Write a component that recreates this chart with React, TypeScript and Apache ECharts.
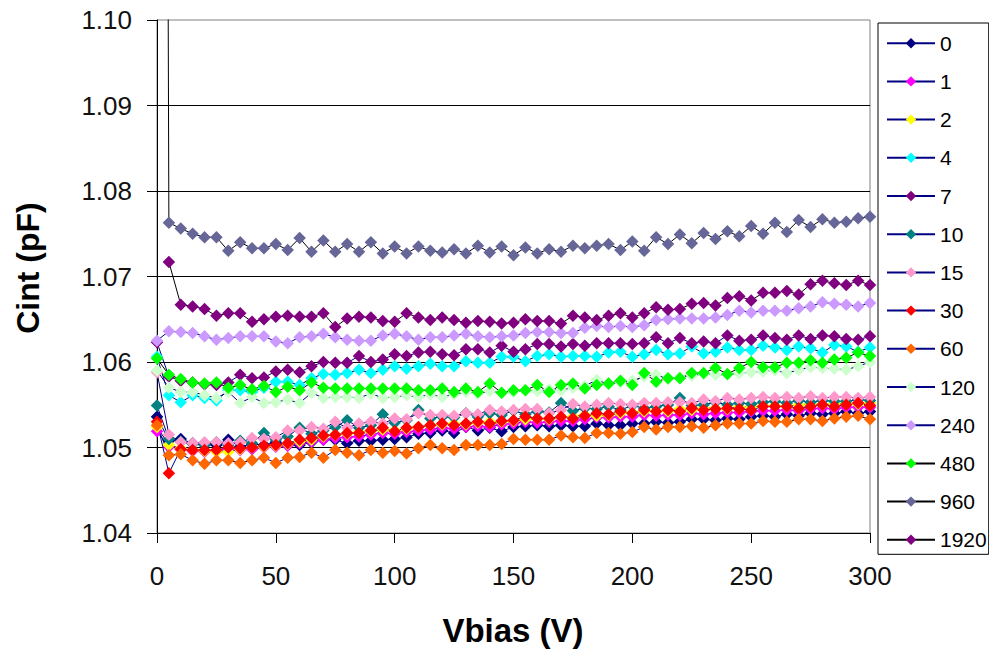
import React, { useEffect, useRef } from "react";
import * as echarts from "echarts";

// Bias voltage (V)
const vbias = [
  0, 5, 10, 15, 20, 25, 30, 35, 40, 45,
  50, 55, 60, 65, 70, 75, 80, 85, 90, 95,
  100, 105, 110, 115, 120, 125, 130, 135, 140, 145,
  150, 155, 160, 165, 170, 175, 180, 185, 190, 195,
  200, 205, 210, 215, 220, 225, 230, 235, 240, 245,
  250, 255, 260, 265, 270, 275, 280, 285, 290, 295,
  300,
];

const yTicks = [1.04, 1.05, 1.06, 1.07, 1.08, 1.09, 1.1];
const xTicks = [0, 50, 100, 150, 200, 250, 300];

const seriesNames = ["0", "1", "2", "4", "7", "10", "15", "30", "60", "120", "240", "480", "960", "1920"];

// Cint (pF) per series
const s0 = [
  1.0536, 1.0508, 1.0510, 1.0505, 1.0503, 1.0503, 1.0509, 1.0501, 1.0504, 1.0503,
  1.0506, 1.0503, 1.0503, 1.0506, 1.0509, 1.0509, 1.0505, 1.0508, 1.0508, 1.0509,
  1.0510, 1.0512, 1.0516, 1.0517, 1.0520, 1.0517, 1.0524, 1.0520, 1.0523, 1.0519,
  1.0524, 1.0525, 1.0526, 1.0525, 1.0526, 1.0525, 1.0525, 1.0528, 1.0526, 1.0526,
  1.0528, 1.0528, 1.0530, 1.0529, 1.0530, 1.0533, 1.0533, 1.0532, 1.0534, 1.0533,
  1.0536, 1.0537, 1.0536, 1.0539, 1.0537, 1.0540, 1.0539, 1.0540, 1.0542, 1.0540,
  1.0542,
];
const s1 = [
  1.0519, 1.0501, 1.0498, 1.0496, 1.0495, 1.0496, 1.0498, 1.0497, 1.0498, 1.0500,
  1.0501, 1.0502, 1.0505, 1.0507, 1.0509, 1.0511, 1.0512, 1.0513, 1.0515, 1.0517,
  1.0516, 1.0518, 1.0520, 1.0521, 1.0523, 1.0522, 1.0524, 1.0525, 1.0524, 1.0527,
  1.0528, 1.0530, 1.0529, 1.0530, 1.0531, 1.0531, 1.0533, 1.0535, 1.0535, 1.0536,
  1.0536, 1.0538, 1.0537, 1.0538, 1.0538, 1.0540, 1.0539, 1.0540, 1.0541, 1.0541,
  1.0542, 1.0543, 1.0543, 1.0544, 1.0543, 1.0545, 1.0546, 1.0545, 1.0547, 1.0547,
  1.0547,
];
const s2 = [
  1.0524, 1.0503, 1.0499, 1.0497, 1.0496, 1.0495, 1.0495, 1.0498, 1.0500, 1.0501,
  1.0502, 1.0504, 1.0507, 1.0509, 1.0513, 1.0515, 1.0516, 1.0518, 1.0519, 1.0521,
  1.0520, 1.0522, 1.0524, 1.0526, 1.0527, 1.0528, 1.0527, 1.0529, 1.0530, 1.0530,
  1.0531, 1.0533, 1.0534, 1.0533, 1.0536, 1.0536, 1.0538, 1.0537, 1.0538, 1.0540,
  1.0541, 1.0542, 1.0543, 1.0542, 1.0545, 1.0544, 1.0546, 1.0546, 1.0545, 1.0548,
  1.0547, 1.0549, 1.0549, 1.0548, 1.0550, 1.0551, 1.0550, 1.0551, 1.0552, 1.0551,
  1.0552,
];
const s4 = [
  1.0606, 1.0561, 1.0553, 1.0561, 1.0558, 1.0555, 1.0567, 1.0567, 1.0565, 1.0570,
  1.0577, 1.0577, 1.0573, 1.0581, 1.0586, 1.0585, 1.0587, 1.0591, 1.0587, 1.0591,
  1.0595, 1.0592, 1.0595, 1.0598, 1.0595, 1.0595, 1.0601, 1.0599, 1.0599, 1.0606,
  1.0606, 1.0601, 1.0607, 1.0609, 1.0606, 1.0607, 1.0607, 1.0606, 1.0611, 1.0612,
  1.0606, 1.0609, 1.0614, 1.0609, 1.0610, 1.0618, 1.0610, 1.0612, 1.0617, 1.0614,
  1.0614, 1.0619, 1.0617, 1.0614, 1.0618, 1.0616, 1.0611, 1.0620, 1.0618, 1.0612,
  1.0617,
];
const s7 = [
  1.0623, 1.0583, 1.0578, 1.0576, 1.0574, 1.0573, 1.0576, 1.0585, 1.0581, 1.0582,
  1.0589, 1.0591, 1.0588, 1.0595, 1.0600, 1.0599, 1.0599, 1.0607, 1.0600, 1.0603,
  1.0609, 1.0607, 1.0611, 1.0612, 1.0609, 1.0608, 1.0615, 1.0615, 1.0611, 1.0619,
  1.0612, 1.0615, 1.0621, 1.0621, 1.0618, 1.0621, 1.0619, 1.0622, 1.0622, 1.0622,
  1.0621, 1.0622, 1.0629, 1.0622, 1.0628, 1.0622, 1.0624, 1.0622, 1.0631, 1.0625,
  1.0626, 1.0631, 1.0628, 1.0626, 1.0631, 1.0627, 1.0631, 1.0630, 1.0627, 1.0626,
  1.0630,
];
const s10 = [
  1.0549, 1.0510, 1.0507, 1.0504, 1.0503, 1.0506, 1.0503, 1.0508, 1.0505, 1.0517,
  1.0509, 1.0513, 1.0523, 1.0516, 1.0520, 1.0524, 1.0532, 1.0523, 1.0526, 1.0539,
  1.0529, 1.0532, 1.0544, 1.0534, 1.0536, 1.0535, 1.0540, 1.0536, 1.0540, 1.0538,
  1.0543, 1.0539, 1.0542, 1.0541, 1.0552, 1.0543, 1.0546, 1.0545, 1.0548, 1.0544,
  1.0549, 1.0546, 1.0548, 1.0550, 1.0558, 1.0549, 1.0550, 1.0553, 1.0550, 1.0552,
  1.0551, 1.0553, 1.0554, 1.0552, 1.0555, 1.0553, 1.0555, 1.0554, 1.0554, 1.0556,
  1.0555,
];
const s15 = [
  1.0588, 1.0515, 1.0506, 1.0505, 1.0506, 1.0506, 1.0505, 1.0506, 1.0511, 1.0510,
  1.0512, 1.0520, 1.0520, 1.0524, 1.0522, 1.0530, 1.0523, 1.0528, 1.0530, 1.0528,
  1.0534, 1.0533, 1.0540, 1.0538, 1.0538, 1.0537, 1.0540, 1.0539, 1.0544, 1.0542,
  1.0544, 1.0545, 1.0545, 1.0540, 1.0544, 1.0551, 1.0548, 1.0550, 1.0552, 1.0551,
  1.0550, 1.0552, 1.0552, 1.0553, 1.0553, 1.0552, 1.0556, 1.0554, 1.0558, 1.0556,
  1.0558, 1.0559, 1.0558, 1.0559, 1.0558, 1.0560, 1.0558, 1.0559, 1.0559, 1.0558,
  1.0559,
];
const s30 = [
  1.0530, 1.0470, 1.0498, 1.0497, 1.0497, 1.0497, 1.0500, 1.0499, 1.0500, 1.0502,
  1.0503, 1.0505, 1.0509, 1.0511, 1.0514, 1.0515, 1.0517, 1.0517, 1.0520, 1.0523,
  1.0519, 1.0523, 1.0524, 1.0526, 1.0528, 1.0526, 1.0528, 1.0530, 1.0528, 1.0531,
  1.0532, 1.0536, 1.0534, 1.0534, 1.0536, 1.0534, 1.0537, 1.0540, 1.0539, 1.0542,
  1.0540, 1.0544, 1.0542, 1.0544, 1.0542, 1.0546, 1.0544, 1.0545, 1.0546, 1.0545,
  1.0544, 1.0548, 1.0548, 1.0548, 1.0546, 1.0548, 1.0550, 1.0548, 1.0550, 1.0552,
  1.0549,
];
const s60 = [
  1.0526, 1.0491, 1.0492, 1.0485, 1.0481, 1.0485, 1.0485, 1.0482, 1.0485, 1.0488,
  1.0482, 1.0488, 1.0489, 1.0494, 1.0488, 1.0497, 1.0494, 1.0491, 1.0497, 1.0494,
  1.0496, 1.0493, 1.0499, 1.0503, 1.0499, 1.0497, 1.0503, 1.0503, 1.0503, 1.0504,
  1.0510, 1.0509, 1.0509, 1.0509, 1.0514, 1.0512, 1.0511, 1.0517, 1.0517, 1.0516,
  1.0518, 1.0524, 1.0521, 1.0524, 1.0524, 1.0525, 1.0523, 1.0526, 1.0528, 1.0528,
  1.0528, 1.0531, 1.0530, 1.0530, 1.0533, 1.0533, 1.0531, 1.0534, 1.0536, 1.0537,
  1.0533,
];
const s120 = [
  1.0590, 1.0570, 1.0565, 1.0565, 1.0561, 1.0558, 1.0565, 1.0552, 1.0559, 1.0552,
  1.0553, 1.0556, 1.0552, 1.0564, 1.0558, 1.0559, 1.0559, 1.0558, 1.0563, 1.0558,
  1.0559, 1.0561, 1.0559, 1.0562, 1.0559, 1.0562, 1.0565, 1.0563, 1.0566, 1.0564,
  1.0565, 1.0567, 1.0566, 1.0568, 1.0567, 1.0570, 1.0572, 1.0579, 1.0574, 1.0576,
  1.0578, 1.0583, 1.0585, 1.0580, 1.0582, 1.0584, 1.0586, 1.0585, 1.0585, 1.0587,
  1.0588, 1.0589, 1.0590, 1.0587, 1.0591, 1.0594, 1.0593, 1.0592, 1.0591, 1.0595,
  1.0600,
];
const s240 = [
  1.0625, 1.0636, 1.0635, 1.0634, 1.0630, 1.0626, 1.0628, 1.0630, 1.0630, 1.0630,
  1.0624, 1.0622, 1.0629, 1.0630, 1.0633, 1.0629, 1.0626, 1.0625, 1.0625, 1.0631,
  1.0633, 1.0630, 1.0626, 1.0629, 1.0629, 1.0631, 1.0633, 1.0630, 1.0629, 1.0630,
  1.0631, 1.0634, 1.0635, 1.0635, 1.0634, 1.0634, 1.0640, 1.0642, 1.0641, 1.0642,
  1.0641, 1.0643, 1.0649, 1.0650, 1.0651, 1.0651, 1.0651, 1.0652, 1.0655, 1.0660,
  1.0658, 1.0660, 1.0660, 1.0660, 1.0663, 1.0665, 1.0670, 1.0668, 1.0667, 1.0665,
  1.0669,
];
const s480 = [
  1.0604, 1.0585, 1.0580, 1.0576, 1.0575, 1.0576, 1.0570, 1.0573, 1.0568, 1.0572,
  1.0565, 1.0571, 1.0567, 1.0576, 1.0570, 1.0569, 1.0569, 1.0569, 1.0569, 1.0569,
  1.0569, 1.0569, 1.0567, 1.0567, 1.0569, 1.0565, 1.0569, 1.0565, 1.0575, 1.0564,
  1.0567, 1.0567, 1.0573, 1.0565, 1.0573, 1.0575, 1.0569, 1.0573, 1.0575, 1.0578,
  1.0573, 1.0587, 1.0577, 1.0581, 1.0581, 1.0587, 1.0587, 1.0593, 1.0586, 1.0593,
  1.0600, 1.0594, 1.0594, 1.0599, 1.0599, 1.0602, 1.0599, 1.0603, 1.0605, 1.0611,
  1.0607,
];
const s960 = [
  1.5, 1.0763, 1.0756, 1.0750, 1.0746, 1.0746, 1.0730, 1.0740, 1.0733, 1.0733,
  1.0738, 1.0731, 1.0745, 1.0729, 1.0742, 1.0729, 1.0738, 1.0729, 1.0740, 1.0727,
  1.0735, 1.0727, 1.0735, 1.0730, 1.0728, 1.0732, 1.0727, 1.0736, 1.0728, 1.0735,
  1.0725, 1.0734, 1.0727, 1.0732, 1.0729, 1.0736, 1.0733, 1.0736, 1.0738, 1.0731,
  1.0741, 1.0730, 1.0746, 1.0738, 1.0749, 1.0739, 1.0751, 1.0744, 1.0753, 1.0747,
  1.0759, 1.0750, 1.0763, 1.0752, 1.0766, 1.0758, 1.0767, 1.0763, 1.0764, 1.0768,
  1.0770,
];
const s1920 = [
  null, 1.0717, 1.0667, 1.0665, 1.0662, 1.0654, 1.0657, 1.0657, 1.0647, 1.0650,
  1.0653, 1.0654, 1.0653, 1.0653, 1.0657, 1.0641, 1.0651, 1.0653, 1.0652, 1.0648,
  1.0647, 1.0657, 1.0652, 1.0649, 1.0652, 1.0649, 1.0646, 1.0648, 1.0647, 1.0645,
  1.0646, 1.0650, 1.0648, 1.0648, 1.0645, 1.0654, 1.0652, 1.0649, 1.0654, 1.0657,
  1.0652, 1.0657, 1.0664, 1.0661, 1.0662, 1.0668, 1.0669, 1.0666, 1.0675, 1.0677,
  1.0672, 1.0681, 1.0681, 1.0683, 1.0679, 1.0691, 1.0695, 1.0692, 1.0690, 1.0695,
  1.0690,
];

const seriesValues = [s0, s1, s2, s4, s7, s10, s15, s30, s60, s120, s240, s480, s960, s1920];

const markerColors = [
  "#000080", "#FF00FF", "#FFFF00", "#00FFFF", "#800080", "#008080", "#FF99CC",
  "#FF0000", "#FF6600", "#CCFFCC", "#CC99FF", "#00FF00", "#666699", "#800080",
];
const lineColors = [
  "#000080", "#000080", "#000080", "#000080", "#000080", "#000080", "#000080",
  "#000080", "#000080", "#000080", "#000080", "#000000", "#000000", "#000000",
];

const FONT = "'Liberation Sans', Arial, Helvetica, sans-serif";

export default function App() {
  const ref = useRef<HTMLDivElement>(null);

  useEffect(() => {
    if (!ref.current) return;
    const chart = echarts.init(ref.current, null, { renderer: "svg" });

    const series = seriesNames.map((name, i) => {
      const vals = seriesValues[i];
      const data: [number, number][] = [];
      vbias.forEach((x, j) => {
        const v = vals[j];
        if (v !== null && v !== undefined) data.push([x, v as number]);
      });
      return {
        name,
        type: "line",
        data,
        symbol: "diamond",
        symbolSize: 12.5,
        showSymbol: true,
        showAllSymbol: true,
        clip: true,
        silent: true,
        itemStyle: { color: markerColors[i] },
        lineStyle: { color: lineColors[i], width: 1 },
        emphasis: { disabled: true },
      };
    });

    chart.setOption({
      animation: false,
      backgroundColor: "#ffffff",
      grid: {
        left: 157,
        top: 20,
        width: 713,
        height: 513,
        show: true,
        borderColor: "#808080",
        borderWidth: 1,
        backgroundColor: "transparent",
      },
      xAxis: {
        type: "value",
        min: xTicks[0],
        max: xTicks[xTicks.length - 1],
        interval: xTicks[1] - xTicks[0],
        axisLine: { show: true, onZero: false, lineStyle: { color: "#000", width: 1 } },
        axisTick: { show: true, length: 10, lineStyle: { color: "#000", width: 1 } },
        axisLabel: { color: "#111", fontSize: 26, fontFamily: FONT, margin: 30 },
        splitLine: { show: false },
      },
      yAxis: {
        type: "value",
        min: yTicks[0],
        max: yTicks[yTicks.length - 1],
        interval: 0.01,
        axisLine: { show: true, onZero: false, lineStyle: { color: "#000", width: 1 } },
        axisTick: { show: true, length: 10, lineStyle: { color: "#000", width: 1 } },
        axisLabel: {
          color: "#111",
          fontSize: 26,
          fontFamily: FONT,
          margin: 25,
          formatter: (v: number) => v.toFixed(2),
        },
        splitLine: {
          show: true,
          showMinLine: false,
          showMaxLine: false,
          lineStyle: { color: "#000", width: 1 },
        },
      },
      legend: {
        orient: "vertical",
        left: 878,
        top: 23,
        padding: [9.7, 2, 4, 8],
        itemGap: 17.2,
        itemWidth: 48,
        itemHeight: 13,
        borderColor: "#000",
        borderWidth: 1,
        backgroundColor: "#fff",
        selectedMode: false,
        data: seriesNames,
        textStyle: { fontSize: 21, fontFamily: FONT, color: "#000", lineHeight: 20 },
      },
      graphic: [
        {
          type: "text",
          x: 28,
          y: 268,
          rotation: Math.PI / 2,
          style: {
            text: "Cint (pF)",
            fontSize: 32,
            fontWeight: "bold",
            fontFamily: FONT,
            fill: "#000",
            align: "center",
            verticalAlign: "middle",
          },
        },
        {
          type: "text",
          x: 513,
          y: 630,
          style: {
            text: "Vbias (V)",
            fontSize: 33,
            fontWeight: "bold",
            fontFamily: FONT,
            fill: "#000",
            align: "center",
            verticalAlign: "middle",
          },
        },
      ],
      series,
    });

    return () => {
      chart.dispose();
    };
  }, []);

  return (
    <div
      ref={ref}
      style={{ position: "fixed", left: 0, top: 0, width: 989, height: 652, background: "#fff" }}
    />
  );
}
